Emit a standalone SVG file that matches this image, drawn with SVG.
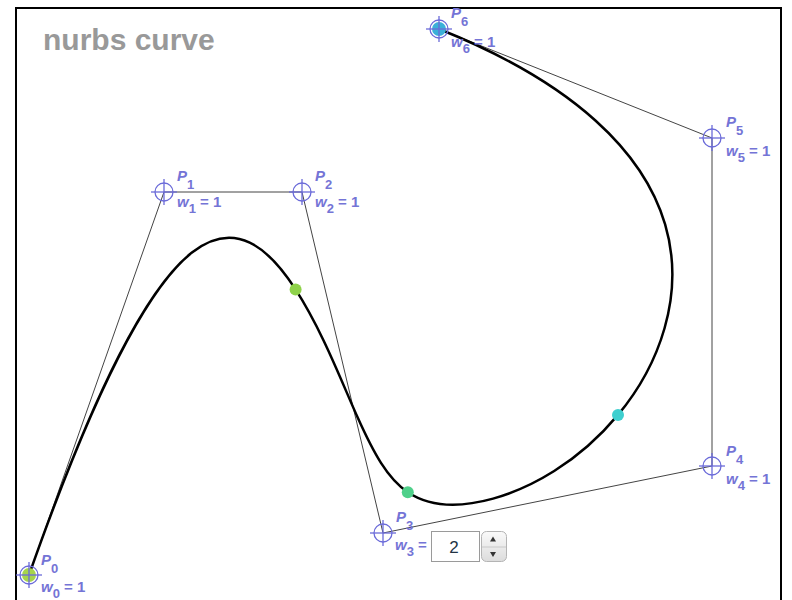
<svg xmlns="http://www.w3.org/2000/svg" width="792" height="600" viewBox="0 0 792 600">
<defs>
<style>
.frame{fill:#fff;stroke:#000;stroke-width:2}
.title{font-family:"Liberation Sans",Arial,sans-serif;font-weight:bold;font-size:30px;fill:#999}
.poly{fill:none;stroke:#444;stroke-width:1}
.curve{fill:none;stroke:#000;stroke-width:2.5;stroke-linecap:round}
.ch{fill:none;stroke:#6b6bd9;stroke-width:1.3}
.lbl{font-family:"Liberation Sans",Arial,sans-serif;font-weight:bold;font-style:italic;font-size:15px;fill:#7474d6}
.sub{font-size:13px}
.num{font-style:normal}
.spinbox{fill:#fff;stroke:#9a9a9a;stroke-width:1}
.spinbtn{fill:url(#btn);stroke:#b4b4b4;stroke-width:1}
.val{font-family:"Liberation Sans",Arial,sans-serif;font-size:17px;fill:#223344}
</style>
<linearGradient id="btn" x1="0" y1="0" x2="0" y2="1">
<stop offset="0" stop-color="#fafafa"/>
<stop offset="1" stop-color="#dcdcdc"/>
</linearGradient>
<g id="cross">
<circle cx="0" cy="0" r="9" class="ch"/>
<line x1="-13" y1="0" x2="13" y2="0" class="ch"/>
<line x1="0" y1="-13" x2="0" y2="13" class="ch"/>
</g>
</defs>
<rect x="16" y="8" width="765" height="610" class="frame"/>
<text x="43" y="50" class="title">nurbs curve</text>

<g id="connectors">
<polyline class="poly" points="29,575 164,192 302,192 383,533 712,466 712,138 439,29"/>
</g>

<path id="curve" class="curve" d="M29,575 C96.5,383.5 148.40,287.04 191.61,252.82 C234.82,218.60 268.75,247.67 295.57,289.43 C322.39,331.18 341.14,380.73 357.34,416.79 C373.54,452.85 387.3,478.5 407.8,492.2 C428.3,505.9 456.37,508.83 493.07,498.62 C529.77,488.41 577.71,463.22 618,414.86 C658.29,366.49 686.10,295.66 665.14,224.45 C644.19,153.23 575.5,83.5 439,29"/>

<g id="knots">
<circle cx="295.6" cy="289.4" r="6" fill="#8fd24a"/>
<circle cx="407.8" cy="492.2" r="6" fill="#4fd08a"/>
<circle cx="618" cy="414.9" r="6" fill="#3fcfcf"/>
</g>

<g id="P0">
<circle cx="29" cy="575" r="7" fill="#a6d44a"/>
<use href="#cross" x="29" y="575"/>
<text class="lbl" x="41" y="565">P<tspan class="sub num" dy="8">0</tspan></text>
<text class="lbl" x="41" y="592">w<tspan class="sub num" dy="6">0</tspan><tspan class="num" dy="-6"> = 1</tspan></text>
</g>
<g id="P1">
<use href="#cross" x="164" y="192"/>
<text class="lbl" x="177" y="181">P<tspan class="sub num" dy="8">1</tspan></text>
<text class="lbl" x="177" y="207">w<tspan class="sub num" dy="6">1</tspan><tspan class="num" dy="-6"> = 1</tspan></text>
</g>
<g id="P2">
<use href="#cross" x="302" y="192"/>
<text class="lbl" x="315" y="181">P<tspan class="sub num" dy="8">2</tspan></text>
<text class="lbl" x="315" y="207">w<tspan class="sub num" dy="6">2</tspan><tspan class="num" dy="-6"> = 1</tspan></text>
</g>
<g id="P3">
<use href="#cross" x="383" y="533"/>
<text class="lbl" x="396" y="522">P<tspan class="sub num" dy="8">3</tspan></text>
<text class="lbl" x="395" y="550">w<tspan class="sub num" dy="6">3</tspan><tspan class="num" dy="-6"> =</tspan></text>
<rect class="spinbox" x="431.5" y="531.5" width="48" height="30"/>
<text class="val" x="454" y="553" text-anchor="middle">2</text>
<rect class="spinbtn" x="481.5" y="531.5" width="25" height="30" rx="5"/>
<line x1="482" y1="547" x2="506" y2="547" stroke="#c8c8c8" stroke-width="1"/>
<path d="M490,541.5 L496,541.5 L493,536.5 Z" fill="#333"/>
<path d="M490,552 L496,552 L493,557 Z" fill="#333"/>
</g>
<g id="P4">
<use href="#cross" x="712" y="466"/>
<text class="lbl" x="726" y="456">P<tspan class="sub num" dy="8">4</tspan></text>
<text class="lbl" x="726" y="484">w<tspan class="sub num" dy="6">4</tspan><tspan class="num" dy="-6"> = 1</tspan></text>
</g>
<g id="P5">
<use href="#cross" x="712" y="138"/>
<text class="lbl" x="726" y="127">P<tspan class="sub num" dy="8">5</tspan></text>
<text class="lbl" x="726" y="156">w<tspan class="sub num" dy="6">5</tspan><tspan class="num" dy="-6"> = 1</tspan></text>
</g>
<g id="P6">
<circle cx="439" cy="29" r="7" fill="#3bb0d8"/>
<use href="#cross" x="439" y="29"/>
<text class="lbl" x="451" y="18">P<tspan class="sub num" dy="8">6</tspan></text>
<text class="lbl" x="451" y="47">w<tspan class="sub num" dy="6">6</tspan><tspan class="num" dy="-6"> = 1</tspan></text>
</g>
</svg>
